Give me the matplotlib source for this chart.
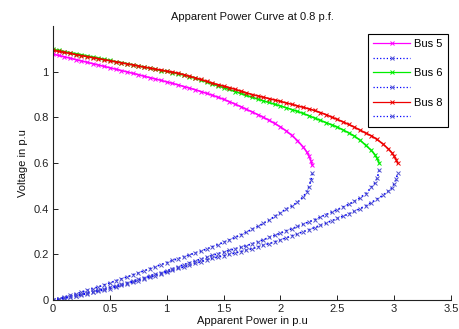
import matplotlib
matplotlib.use('Agg')
import matplotlib.pyplot as plt

plt.rcParams['font.family'] = ['Liberation Sans', 'DejaVu Sans']

title = "Apparent Power Curve at 0.8 p.f."
xlabel = "Apparent Power in p.u"
ylabel = "Voltage in p.u"
series_names = ["Bus 5", "Bus 6", "Bus 8"]

# ---- Upper (stable) branches: apparent power S [p.u] and voltage V [p.u] ----
bus5_upper_S = [0.00, 0.05, 0.10, 0.15, 0.20, 0.25, 0.30, 0.35, 0.40, 0.45, 0.50, 0.55, 0.60, 0.65,
                0.70, 0.75, 0.80, 0.85, 0.90, 0.95, 1.00, 1.05, 1.10, 1.15, 1.20, 1.25, 1.30, 1.35,
                1.40, 1.45, 1.50, 1.55, 1.60, 1.65, 1.70, 1.75, 1.80, 1.85, 1.90, 1.95, 2.00, 2.05,
                2.10, 2.15, 2.20, 2.23, 2.25, 2.27, 2.28]
bus5_upper_V = [1.077, 1.071, 1.065, 1.059, 1.053, 1.047, 1.041, 1.035, 1.029, 1.023, 1.017, 1.011,
                1.005, 0.999, 0.993, 0.987, 0.980, 0.974, 0.968, 0.962, 0.955, 0.949, 0.942, 0.935,
                0.928, 0.921, 0.913, 0.905, 0.897, 0.888, 0.879, 0.869, 0.858, 0.847, 0.835, 0.824,
                0.812, 0.800, 0.787, 0.773, 0.758, 0.741, 0.721, 0.698, 0.670, 0.650, 0.632, 0.608,
                0.590]

bus6_upper_S = [0.00, 0.05, 0.10, 0.15, 0.20, 0.25, 0.30, 0.35, 0.40, 0.45, 0.50, 0.55, 0.60, 0.65,
                0.70, 0.75, 0.80, 0.85, 0.90, 0.95, 1.00, 1.05, 1.10, 1.15, 1.20, 1.25, 1.30, 1.35,
                1.40, 1.45, 1.50, 1.55, 1.60, 1.65, 1.70, 1.75, 1.80, 1.85, 1.90, 1.95, 2.00, 2.05,
                2.10, 2.15, 2.20, 2.25, 2.30, 2.35, 2.40, 2.45, 2.50, 2.55, 2.60, 2.65, 2.70, 2.75,
                2.80, 2.83, 2.85, 2.87]
bus6_upper_V = [1.098, 1.093, 1.088, 1.083, 1.079, 1.074, 1.069, 1.064, 1.059, 1.054, 1.049, 1.044,
                1.040, 1.035, 1.030, 1.025, 1.020, 1.015, 1.010, 1.005, 1.001, 0.996, 0.991, 0.985,
                0.978, 0.971, 0.963, 0.955, 0.946, 0.938, 0.930, 0.922, 0.913, 0.905, 0.896, 0.888,
                0.880, 0.872, 0.865, 0.857, 0.850, 0.842, 0.834, 0.826, 0.817, 0.807, 0.797, 0.787,
                0.777, 0.767, 0.757, 0.745, 0.732, 0.718, 0.700, 0.678, 0.655, 0.637, 0.620, 0.598]

bus8_upper_S = [0.00, 0.05, 0.10, 0.15, 0.20, 0.25, 0.30, 0.35, 0.40, 0.45, 0.50, 0.55, 0.60, 0.65,
                0.70, 0.75, 0.80, 0.85, 0.90, 0.95, 1.00, 1.05, 1.10, 1.15, 1.20, 1.25, 1.30, 1.35,
                1.40, 1.45, 1.50, 1.55, 1.60, 1.65, 1.70, 1.75, 1.80, 1.85, 1.90, 1.95, 2.00, 2.05,
                2.10, 2.15, 2.20, 2.25, 2.30, 2.35, 2.40, 2.45, 2.50, 2.55, 2.60, 2.65, 2.70, 2.75,
                2.80, 2.85, 2.90, 2.95, 2.98, 3.00, 3.02, 3.03]
bus8_upper_V = [1.093, 1.089, 1.084, 1.080, 1.075, 1.070, 1.066, 1.061, 1.057, 1.052, 1.048, 1.043,
                1.039, 1.034, 1.030, 1.025, 1.020, 1.016, 1.011, 1.007, 1.002, 0.998, 0.993, 0.987,
                0.980, 0.973, 0.966, 0.958, 0.950, 0.943, 0.937, 0.930, 0.923, 0.915, 0.907, 0.900,
                0.894, 0.888, 0.882, 0.876, 0.870, 0.863, 0.857, 0.850, 0.844, 0.837, 0.830, 0.821,
                0.812, 0.801, 0.791, 0.780, 0.769, 0.757, 0.744, 0.731, 0.719, 0.703, 0.684, 0.661,
                0.645, 0.630, 0.612, 0.600]

# ---- Lower (unstable) branches ----
bus5_lower_S = [0.00, 0.05, 0.10, 0.15, 0.20, 0.25, 0.30, 0.35, 0.40, 0.45, 0.50, 0.55, 0.60, 0.65,
                0.70, 0.75, 0.80, 0.85, 0.90, 0.95, 1.00, 1.05, 1.10, 1.15, 1.20, 1.25, 1.30, 1.35,
                1.40, 1.45, 1.50, 1.55, 1.60, 1.65, 1.70, 1.75, 1.80, 1.85, 1.90, 1.95, 2.00, 2.05,
                2.10, 2.15, 2.20, 2.23, 2.25, 2.27, 2.28]
bus5_lower_V = [0.000, 0.006, 0.013, 0.020, 0.027, 0.034, 0.042, 0.050, 0.058, 0.066, 0.075, 0.084,
                0.092, 0.101, 0.110, 0.119, 0.128, 0.137, 0.146, 0.155, 0.164, 0.173, 0.181, 0.190,
                0.198, 0.206, 0.214, 0.223, 0.233, 0.243, 0.253, 0.263, 0.274, 0.285, 0.297, 0.310,
                0.322, 0.336, 0.350, 0.366, 0.383, 0.398, 0.412, 0.428, 0.452, 0.472, 0.495, 0.527,
                0.557]

bus6_lower_S = [0.00, 0.05, 0.10, 0.15, 0.20, 0.25, 0.30, 0.35, 0.40, 0.45, 0.50, 0.55, 0.60, 0.65,
                0.70, 0.75, 0.80, 0.85, 0.90, 0.95, 1.00, 1.05, 1.10, 1.15, 1.20, 1.25, 1.30, 1.35,
                1.40, 1.45, 1.50, 1.55, 1.60, 1.65, 1.70, 1.75, 1.80, 1.85, 1.90, 1.95, 2.00, 2.05,
                2.10, 2.15, 2.20, 2.25, 2.30, 2.35, 2.40, 2.45, 2.50, 2.55, 2.60, 2.65, 2.70, 2.75,
                2.80, 2.83, 2.85, 2.87]
bus6_lower_V = [0.000, 0.004, 0.009, 0.014, 0.019, 0.025, 0.031, 0.037, 0.043, 0.049, 0.055, 0.062,
                0.069, 0.076, 0.083, 0.090, 0.098, 0.106, 0.113, 0.120, 0.128, 0.137, 0.146, 0.155,
                0.163, 0.171, 0.179, 0.187, 0.195, 0.203, 0.210, 0.217, 0.224, 0.231, 0.238, 0.246,
                0.255, 0.264, 0.274, 0.283, 0.293, 0.303, 0.312, 0.322, 0.332, 0.342, 0.352, 0.363,
                0.374, 0.385, 0.396, 0.407, 0.419, 0.432, 0.447, 0.466, 0.493, 0.512, 0.533, 0.569]

bus8_lower_S = [0.00, 0.05, 0.10, 0.15, 0.20, 0.25, 0.30, 0.35, 0.40, 0.45, 0.50, 0.55, 0.60, 0.65,
                0.70, 0.75, 0.80, 0.85, 0.90, 0.95, 1.00, 1.05, 1.10, 1.15, 1.20, 1.25, 1.30, 1.35,
                1.40, 1.45, 1.50, 1.55, 1.60, 1.65, 1.70, 1.75, 1.80, 1.85, 1.90, 1.95, 2.00, 2.05,
                2.10, 2.15, 2.20, 2.25, 2.30, 2.35, 2.40, 2.45, 2.50, 2.55, 2.60, 2.65, 2.70, 2.75,
                2.80, 2.85, 2.90, 2.95, 2.98, 3.00, 3.02, 3.03]
bus8_lower_V = [0.000, 0.004, 0.008, 0.013, 0.018, 0.023, 0.028, 0.034, 0.039, 0.045, 0.050, 0.057,
                0.064, 0.071, 0.078, 0.085, 0.093, 0.100, 0.107, 0.115, 0.122, 0.130, 0.138, 0.145,
                0.153, 0.160, 0.168, 0.175, 0.182, 0.188, 0.194, 0.200, 0.206, 0.212, 0.218, 0.225,
                0.232, 0.240, 0.247, 0.255, 0.263, 0.272, 0.281, 0.290, 0.299, 0.308, 0.317, 0.327,
                0.337, 0.347, 0.357, 0.367, 0.377, 0.388, 0.400, 0.413, 0.427, 0.442, 0.458, 0.477,
                0.492, 0.508, 0.530, 0.557]

x_ticks = [0, 0.5, 1, 1.5, 2, 2.5, 3, 3.5]
x_ticklabels = ["0", "0.5", "1", "1.5", "2", "2.5", "3", "3.5"]
y_ticks = [0, 0.2, 0.4, 0.6, 0.8, 1.0]
y_ticklabels = ["0", "0.2", "0.4", "0.6", "0.8", "1"]

upper_colors = ["#ff00ff", "#00ee00", "#ee0000"]
lower_color = "#0000ff"
lower_marker_color = "#5050d0"

fig = plt.figure(figsize=(4.59, 3.29), dpi=100)
ax = fig.add_axes([53 / 459, 29 / 329, 398 / 459, 274 / 329])

uppers = [(bus5_upper_S, bus5_upper_V), (bus6_upper_S, bus6_upper_V), (bus8_upper_S, bus8_upper_V)]
lowers = [(bus5_lower_S, bus5_lower_V), (bus6_lower_S, bus6_lower_V), (bus8_lower_S, bus8_lower_V)]

handles, labels = [], []
for name, (us, uv), (ls_, lv), col in zip(series_names, uppers, lowers, upper_colors):
    h1, = ax.plot(us, uv, color=col, linestyle='-', linewidth=1.2, marker='x',
                  markersize=3.5, markeredgewidth=0.7)
    h2, = ax.plot(ls_, lv, color=lower_color, linestyle=':', linewidth=1.2, marker='x',
                  markersize=3.5, markeredgewidth=0.7, markeredgecolor=lower_marker_color)
    handles += [h1, h2]
    labels += [name, ""]

ax.set_xlim(0, 3.5)
ax.set_ylim(0, 1.2)
ax.set_xticks(x_ticks)
ax.set_xticklabels(x_ticklabels)
ax.set_yticks(y_ticks)
ax.set_yticklabels(y_ticklabels)
ax.spines['top'].set_visible(False)
ax.spines['right'].set_visible(False)
for sp in ax.spines.values():
    sp.set_linewidth(0.8)
    sp.set_color('#222222')
ax.tick_params(direction='in', length=3.5, width=0.7, labelsize=8, colors='#222222', pad=3)

ax.set_title(title, fontsize=8, pad=4, color='#111111')
ax.set_xlabel(xlabel, fontsize=8, labelpad=1, color='#111111')
ax.set_ylabel(ylabel, fontsize=8, labelpad=4, color='#111111')

leg = ax.legend(handles, labels, loc='upper right', bbox_to_anchor=(0.992, 0.971),
                fontsize=8, fancybox=False, edgecolor='black', framealpha=1,
                borderaxespad=0, handlelength=3.3, handletextpad=0.4,
                labelspacing=0.42, borderpad=0.45, numpoints=1)
leg.get_frame().set_linewidth(0.8)
for h in leg.legend_handles:
    h.set_linewidth(0.9)

fig.savefig('out.png', dpi=100, facecolor='white')
